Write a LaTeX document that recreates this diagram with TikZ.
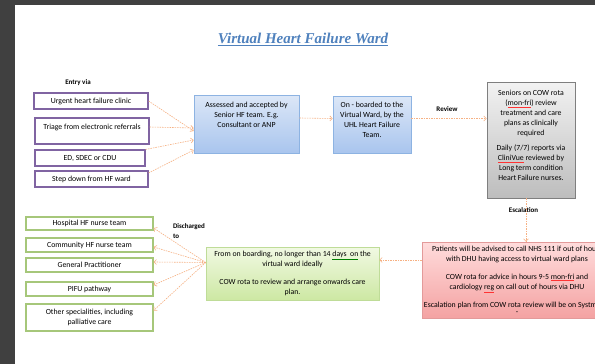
\documentclass[tikz,border=0pt]{standalone}
\usepackage{fontspec}
\setmainfont{Carlito}
\newfontfamily\titlefont{Liberation Serif}
\usetikzlibrary{arrows.meta,shadows}

\definecolor{darkbg}{HTML}{404040}
\definecolor{titlec}{HTML}{4F81BD}
\definecolor{flowc}{HTML}{F6B183}
\definecolor{entryc}{HTML}{8064A2}
\definecolor{dischc}{HTML}{A6C77A}
\definecolor{bluetop}{HTML}{DCE7F7}
\definecolor{bluebot}{HTML}{A9C5EE}
\definecolor{bluec}{HTML}{8DB3E2}
\definecolor{greytop}{HTML}{F2F2F2}
\definecolor{greybot}{HTML}{BDBDBD}
\definecolor{greyc}{HTML}{7F7F7F}
\definecolor{pinktop}{HTML}{FFDCDC}
\definecolor{pinkbot}{HTML}{F4A2A2}
\definecolor{pinkc}{HTML}{E39A9A}
\definecolor{greentop}{HTML}{F1F9E3}
\definecolor{greenbot}{HTML}{CDE8A3}
\definecolor{greenc}{HTML}{BFDC98}

\newcommand{\redul}[1]{{\color{red!80}\underline{\color{black}#1}}}
\newcommand{\greenul}[1]{{\color{green!50!black}\underline{\color{black}#1}}}

\tikzset{
    txt/.style={inner sep=0, align=center, font=\fontsize{7.8}{10}\selectfont},
    head/.style={inner sep=0, align=left, font=\bfseries\fontsize{7}{10}\selectfont},
    entrybox/.style={txt, draw=entryc, line width=1.1pt, fill=white},
    dischbox/.style={txt, draw=dischc, line width=1.1pt, fill=white},
    shade/.style={drop shadow={shadow xshift=1.2pt, shadow yshift=-1.2pt, opacity=0.25}},
    bluebox/.style={txt, draw=bluec, line width=0.6pt, top color=bluetop, bottom color=bluebot, shade},
    greybox/.style={txt, draw=greyc, line width=0.8pt, top color=greytop, bottom color=greybot, shade},
    pinkbox/.style={txt, draw=pinkc, line width=0.6pt, top color=pinktop, bottom color=pinkbot, shade},
    greenbox/.style={txt, draw=greenc, line width=0.6pt, top color=greentop, bottom color=greenbot, shade},
    flow/.style={draw=flowc, line width=0.6pt, dash pattern=on 1.5pt off 1pt,
        -{Straight Barb[length=2.5pt,width=5pt]}},
}

\begin{document}
\begin{tikzpicture}[x=1pt,y=-1pt]
    \useasboundingbox (0,0) rectangle (595,364);
    \fill[darkbg] (0,0) rectangle (595,364);
    \fill[white] (15,5) rectangle (595,364);

    % title
    \node[text=titlec, font=\titlefont\bfseries\itshape\fontsize{15}{18}\selectfont] (title)
        at (303,39) {\underline{Virtual Heart Failure Ward}};

    % entry routes
    \node[head] (entryhd) at (78,83) {Entry via};
    \node[entrybox, minimum width=114, minimum height=16] (urgent) at (91,101) {Urgent heart failure clinic};
    \node[entrybox, minimum width=114, minimum height=26] (triage) at (92,131) {};
    \node[txt] (triagetxt) at (92,127) {Triage from electronic referrals};
    \node[entrybox, minimum width=110, minimum height=16] (ed) at (90,158) {ED, SDEC or CDU};
    \node[entrybox, minimum width=113, minimum height=16] (stepdown) at (91.5,179) {Step down from HF ward};

    % ward pathway
    \node[bluebox, minimum width=105, minimum height=58] (assess) at (246.5,124) {};
    \node[txt] (assesstxt) at (246.5,114.5) {Assessed and accepted by\\ Senior HF team. E.g.\\ Consultant or ANP};
    \node[bluebox, minimum width=78, minimum height=57] (onboard) at (372,124.5) {};
    \node[txt] (onboardtxt) at (372,120) {On - boarded to the\\ Virtual Ward, by the\\ UHL Heart Failure\\ Team.};
    \node[head] (reviewhd) at (447,109) {Review};
    \node[greybox, minimum width=88, minimum height=116] (seniors) at (531,140) {};
    \node[txt] (seniorstxt) at (531,135.5) {Seniors on COW rota\\ (\redul{mon-fri}) review\\ treatment and care\\ plans as clinically\\ required\\[5pt]
        Daily (7/7) reports via\\ \redul{CliniVue} reviewed by\\ Long term condition\\ Heart Failure nurses.};
    \node[head] (escalhd) at (523.5,210) {Escalation};
    \node[pinkbox, minimum width=190, minimum height=76] (alert) at (517,280)
        {Patients will be advised to call NHS 111 if out of hours\\ with DHU having access to virtual ward plans\\[8pt]
        COW rota for advice in hours 9-5 \redul{mon-fri} and\\ cardiology \redul{reg} on call out of hours via DHU\\[8pt]
        Escalation plan from COW rota review will be on SystmOne\\[-3pt] -};
    \node[greenbox, minimum width=173, minimum height=53] (plan) at (292.5,273.5)
        {From on boarding, no longer than 14 \greenul{days\ \ on} the\\ virtual ward ideally\\[8pt]
        COW rota to review and arrange onwards care\\ plan.};

    % discharge routes
    \node[head] (dischhd) at (189,231) {Discharged\\ to};
    \node[dischbox, minimum width=127, minimum height=13] (hospital) at (89.5,223.5) {Hospital HF nurse team};
    \node[dischbox, minimum width=127, minimum height=14] (community) at (89.5,245) {Community HF nurse team};
    \node[dischbox, minimum width=127, minimum height=14] (gp) at (89.5,265) {General Practitioner};
    \node[dischbox, minimum width=127, minimum height=14] (pifu) at (89.5,289) {PIFU pathway};
    \node[dischbox, minimum width=127, minimum height=27] (other) at (89.5,317.5) {Other specialities, including\\ palliative care};

    % connectors
    \draw[flow] (urgent.east) -- ([yshift=-7]assess.west);
    \draw[flow] ([yshift=4]triage.east) -- ([yshift=-4]assess.west);
    \draw[flow] (ed.north east) -- ([yshift=-16]assess.west);
    \draw[flow] ([yshift=6]stepdown.east) -- ([yshift=-26]assess.west);
    \draw[flow] ([yshift=6]assess.east) -- ([yshift=6]onboard.west);
    \coordinate (revpt) at ([yshift=6]onboard.east);
    \draw[flow] (revpt) -- (seniors.west |- revpt);
    \draw[flow] ([xshift=-5]seniors.south) -- ([xshift=-5]seniors.south |- alert.north);
    \coordinate (escpt) at ([yshift=20]alert.west);
    \draw[flow] (escpt) -- (plan.east |- escpt);
    \coordinate (dispt) at ([yshift=11]plan.west);
    \foreach \dst/\dy in {hospital/-4.5, community/-2, gp/3, pifu/4, other/7}
        \draw[flow] (dispt) -- ([yshift=\dy]\dst.east);
\end{tikzpicture}
\end{document}
